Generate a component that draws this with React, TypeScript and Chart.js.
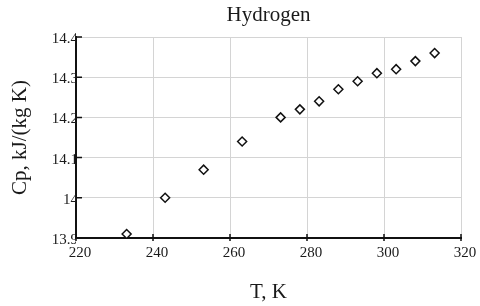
import React, { useEffect, useRef } from "react";
import { Chart, registerables } from "chart.js";

Chart.register(...registerables);

const temperatures = [233.15, 243.15, 253.15, 263.15, 273.15, 278.15, 283.15, 288.15, 293.15, 298.15, 303.15, 308.15, 313.15];
const cpValues = [13.91, 14.0, 14.07, 14.14, 14.2, 14.22, 14.24, 14.27, 14.29, 14.31, 14.32, 14.34, 14.36];
const xTickValues = [220, 240, 260, 280, 300, 320];
const xTickLabels = ["220", "240", "260", "280", "300", "320"];
const yTickValues = [13.9, 14.0, 14.1, 14.2, 14.3, 14.4];
const yTickLabels = ["13.9", "14", "14.1", "14.2", "14.3", "14.4"];
const chartTitle = "Hydrogen";
const xTitle = "T, K";
const yTitle = "Cp, kJ/(kg K)";

const FONT = "'Liberation Serif', 'Times New Roman', serif";
const TEXT = "#1a1a1a";

const titlePlugin = {
  id: "centeredTitle",
  afterDraw(chart: any) {
    const { ctx, chartArea } = chart;
    ctx.save();
    ctx.font = `21px ${FONT}`;
    ctx.fillStyle = TEXT;
    ctx.textAlign = "center";
    ctx.textBaseline = "middle";
    ctx.fillText(chartTitle, (chartArea.left + chartArea.right) / 2, 15);
    ctx.restore();
  },
};

const innerTicksPlugin = {
  id: "innerTicks",
  afterDatasetsDraw(chart: any) {
    const { ctx, chartArea, scales } = chart;
    ctx.save();
    ctx.strokeStyle = "#111";
    ctx.lineWidth = 1.5;
    ctx.beginPath();
    scales.x.ticks.forEach((t: any) => {
      const x = scales.x.getPixelForValue(t.value);
      ctx.moveTo(x, chartArea.bottom - 4);
      ctx.lineTo(x, chartArea.bottom + 3);
    });
    scales.y.ticks.forEach((t: any) => {
      const y = scales.y.getPixelForValue(t.value);
      ctx.moveTo(chartArea.left, y);
      ctx.lineTo(chartArea.left + 6, y);
    });
    ctx.stroke();
    ctx.restore();
  },
};

export default function App() {
  const ref = useRef<HTMLCanvasElement | null>(null);

  useEffect(() => {
    document.body.style.margin = "0";
    if (!ref.current) return;
    const chart = new Chart(ref.current, {
      type: "scatter",
      data: {
        datasets: [
          {
            data: temperatures.map((t, i) => ({ x: t, y: cpValues[i] })),
            pointStyle: "rectRot",
            pointRadius: 4.5,
            pointBorderWidth: 1.5,
            borderColor: "#111",
            backgroundColor: "#fff",
          },
        ],
      },
      options: {
        animation: false,
        responsive: false,
        layout: { padding: { left: 0, right: 19, top: 37, bottom: 0 } },
        plugins: { legend: { display: false }, tooltip: { enabled: false } },
        scales: {
          x: {
            type: "linear",
            min: 220,
            max: 320,
            afterBuildTicks: (s: any) => {
              s.ticks = xTickValues.map((v) => ({ value: v }));
            },
            afterFit: (s: any) => {
              s.height = 68;
            },
            ticks: {
              font: { family: FONT, size: 15 },
              color: TEXT,
              padding: 6,
              labelOffset: 4,
              maxRotation: 0,
              callback: (v: any) => xTickLabels[xTickValues.indexOf(Number(v))] ?? "",
            },
            grid: { color: "#d4d4d4", lineWidth: 1, drawTicks: false },
            border: { display: true, color: "#111", width: 2 },
            title: {
              display: true,
              text: xTitle,
              font: { family: FONT, size: 21 },
              color: TEXT,
              padding: { top: 0, bottom: 1 },
            },
          },
          y: {
            type: "linear",
            min: 13.9,
            max: 14.4,
            afterBuildTicks: (s: any) => {
              s.ticks = yTickValues.map((v) => ({ value: v }));
            },
            afterFit: (s: any) => {
              s.width = 76;
            },
            ticks: {
              font: { family: FONT, size: 15 },
              color: TEXT,
              padding: -2,
              labelOffset: 2,
              callback: (v: any) => yTickLabels[yTickValues.indexOf(Number(v))] ?? "",
            },
            grid: { color: "#d4d4d4", lineWidth: 1, drawTicks: false },
            border: { display: true, color: "#111", width: 2 },
            title: {
              display: true,
              text: yTitle,
              font: { family: FONT, size: 21 },
              color: TEXT,
              padding: { top: 8, bottom: 0 },
            },
          },
        },
      },
      plugins: [titlePlugin, innerTicksPlugin],
    });
    return () => chart.destroy();
  }, []);

  return <canvas ref={ref} width={480} height={306} style={{ display: "block" }} />;
}
